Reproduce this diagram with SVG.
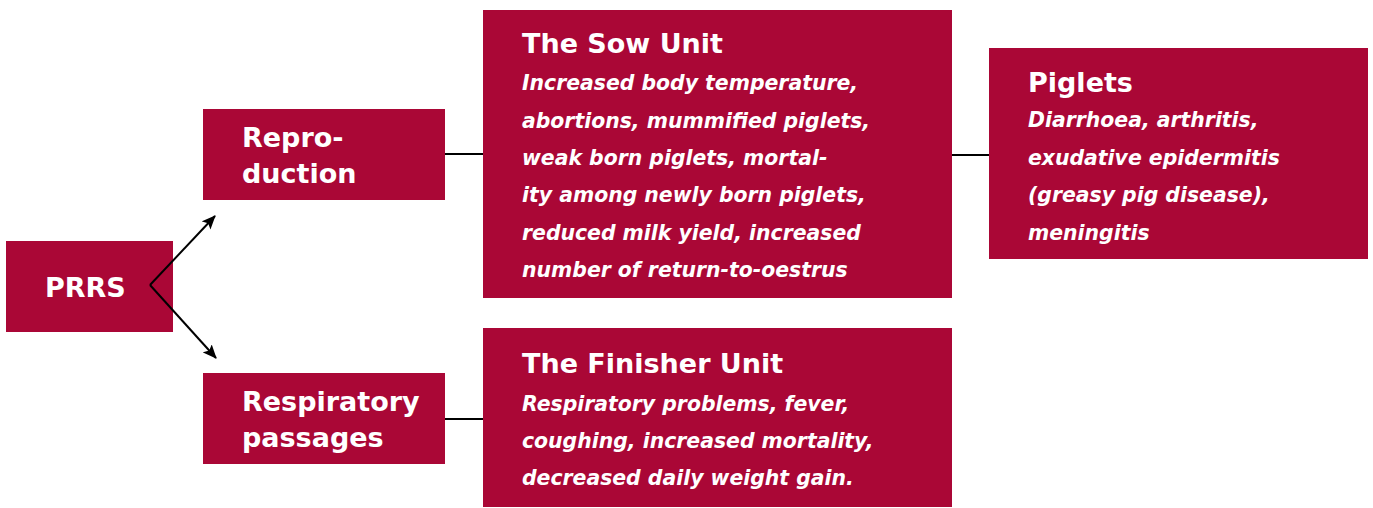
<svg xmlns="http://www.w3.org/2000/svg" width="1373" height="508" viewBox="0 0 1373 508">
  <style>
    .box { fill: #AA0736; }
    .head { font-family: "DejaVu Sans", Verdana, sans-serif; font-weight: bold; font-size: 27px; fill: #ffffff; }
    .body { font-family: "DejaVu Sans", Verdana, sans-serif; font-weight: bold; font-style: italic; font-size: 20.4px; fill: #ffffff; }
    .link { stroke: #000000; stroke-width: 2; fill: none; }
  </style>
  <defs>
    <marker id="arrow" viewBox="0 0 14 12" refX="13" refY="6" markerWidth="14" markerHeight="12" markerUnits="userSpaceOnUse" orient="auto">
      <path d="M0,0 L14,6 L0,12 L3,6 z" fill="#000000"/>
    </marker>
  </defs>
  <rect width="1373" height="508" fill="#ffffff"/>

  <g id="n-prrs">
    <rect class="box" x="6" y="241" width="167" height="91"/>
    <text class="head" x="45" y="297">PRRS</text>
  </g>
  <g id="n-reproduction">
    <rect class="box" x="203" y="109" width="242" height="91"/>
    <text class="head" x="242" y="147">Repro-</text>
    <text class="head" x="242" y="183">duction</text>
  </g>
  <g id="n-respiratory">
    <rect class="box" x="203" y="373" width="242" height="91"/>
    <text class="head" x="242" y="411">Respiratory</text>
    <text class="head" x="242" y="447">passages</text>
  </g>
  <g id="n-sow">
    <rect class="box" x="483" y="10" width="469" height="288"/>
    <text class="head" x="522" y="53">The Sow Unit</text>
    <text class="body" x="522" y="90">Increased body temperature,</text>
    <text class="body" x="522" y="128">abortions, mummified piglets,</text>
    <text class="body" x="522" y="165">weak born piglets, mortal-</text>
    <text class="body" x="522" y="202">ity among newly born piglets,</text>
    <text class="body" x="522" y="240">reduced milk yield, increased</text>
    <text class="body" x="522" y="277">number of return-to-oestrus</text>
  </g>
  <g id="n-finisher">
    <rect class="box" x="483" y="328" width="469" height="179"/>
    <text class="head" x="522" y="373">The Finisher Unit</text>
    <text class="body" x="522" y="411">Respiratory problems, fever,</text>
    <text class="body" x="522" y="448">coughing, increased mortality,</text>
    <text class="body" x="522" y="485">decreased daily weight gain.</text>
  </g>
  <g id="n-piglets">
    <rect class="box" x="989" y="48" width="379" height="211"/>
    <text class="head" x="1028" y="92">Piglets</text>
    <text class="body" x="1028" y="127">Diarrhoea, arthritis,</text>
    <text class="body" x="1028" y="165">exudative epidermitis</text>
    <text class="body" x="1028" y="202">(greasy pig disease),</text>
    <text class="body" x="1028" y="240">meningitis</text>
  </g>

  <g id="connectors">
    <path class="link" d="M150,285 L215,216" marker-end="url(#arrow)"/>
    <path class="link" d="M150,285 L216,358" marker-end="url(#arrow)"/>
    <path class="link" d="M445,154 L483,154"/>
    <path class="link" d="M445,419 L483,419"/>
    <path class="link" d="M952,155 L989,155"/>
  </g>
</svg>
